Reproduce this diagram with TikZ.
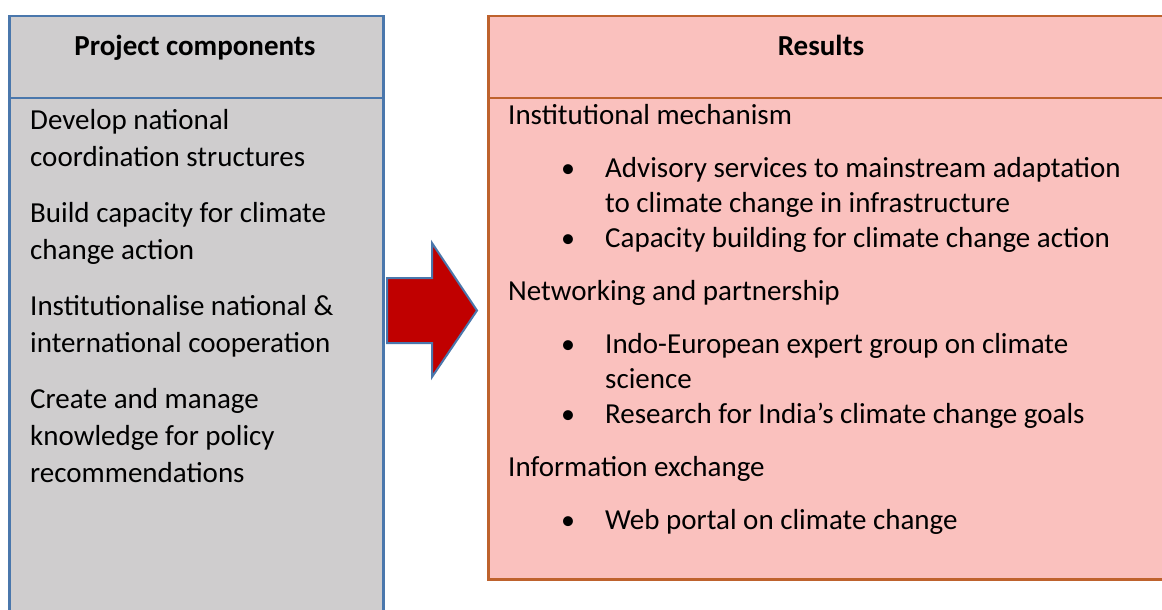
\documentclass[tikz,border=0pt]{standalone}
\usepackage{fontspec}
\setmainfont{Carlito}
\definecolor{cblue}{RGB}{74,119,172}
\definecolor{cgray}{RGB}{207,205,206}
\definecolor{cpink}{RGB}{250,193,190}
\definecolor{corange}{RGB}{190,98,45}
\definecolor{cred}{RGB}{192,0,0}
\begin{document}
\begin{tikzpicture}[x=1pt,y=-1pt,
  txt/.style={font=\fontsize{29}{35}\selectfont, inner sep=0pt, anchor=mid west},
  hdr/.style={font=\fontsize{29}{35}\selectfont\bfseries, inner sep=0pt, anchor=mid},
  bul/.style={font=\fontsize{28}{35}\selectfont, inner sep=0pt, anchor=mid},
  leftbox/.style={draw=cblue, fill=cgray, line width=2.5pt, inner sep=0pt, anchor=north west},
  rightbox/.style={draw=corange, fill=cpink, line width=2.5pt, inner sep=0pt, anchor=north west}]
\useasboundingbox (0,0) rectangle (1162,610);
\fill[white] (0,0) rectangle (1162,610);
\begin{scope}
\clip (0,0) rectangle (1162,610);
% boxes
\node[leftbox, minimum width=374pt, minimum height=640pt] (lbox) at (8,15) {};
\draw[cblue, line width=2.5pt] (8,98) -- (382,98);
\node[rightbox, minimum width=680pt, minimum height=563pt] (rbox) at (487,15) {};
\draw[corange, line width=2.5pt] (487,98) -- (1167,98);
\end{scope}
% headers
\node[hdr] (lh) at (195,53) {Project components};
\node[hdr] (rh) at (821,53) {Results};
% left text
\node[txt] (l1) at (30,127) {Develop national};
\node[txt] (l2) at (30,164) {coordination structures};
\node[txt] (l3) at (30,220) {Build capacity for climate};
\node[txt] (l4) at (30,257) {change action};
\node[txt] (l5) at (30,313) {Institutionalise national \&};
\node[txt] (l6) at (30,350) {international cooperation};
\node[txt] (l7) at (30,406) {Create and manage};
\node[txt] (l8) at (30,443) {knowledge for policy};
\node[txt] (l9) at (30,480) {recommendations};
% right text
\node[txt] (r1) at (508,122) {Institutional mechanism};
\node[bul] (b1) at (568,175) {•};
\node[txt] (r2) at (605,175) {Advisory services to mainstream adaptation};
\node[txt] (r3) at (605,210) {to climate change in infrastructure};
\node[bul] (b2) at (568,245) {•};
\node[txt] (r4) at (605,245) {Capacity building for climate change action};
\node[txt] (r5) at (508,298) {Networking and partnership};
\node[bul] (b3) at (568,351) {•};
\node[txt] (r6) at (605,351) {Indo-European expert group on climate};
\node[txt] (r7) at (605,386) {science};
\node[bul] (b4) at (568,421) {•};
\node[txt] (r8) at (605,421) {Research for India’s climate change goals};
\node[txt] (r9) at (508,474) {Information exchange};
\node[bul] (b5) at (568,527) {•};
\node[txt] (r10) at (605,527) {Web portal on climate change};
% arrow
\coordinate (a0) at (387,278);
\draw[cblue, line width=2pt, fill=cred, line join=miter]
  (a0) -- (432,278) -- (432,243) -- (477,310.5) -- (432,377) -- (432,343) -- (387,343) -- cycle;
\end{tikzpicture}
\end{document}
